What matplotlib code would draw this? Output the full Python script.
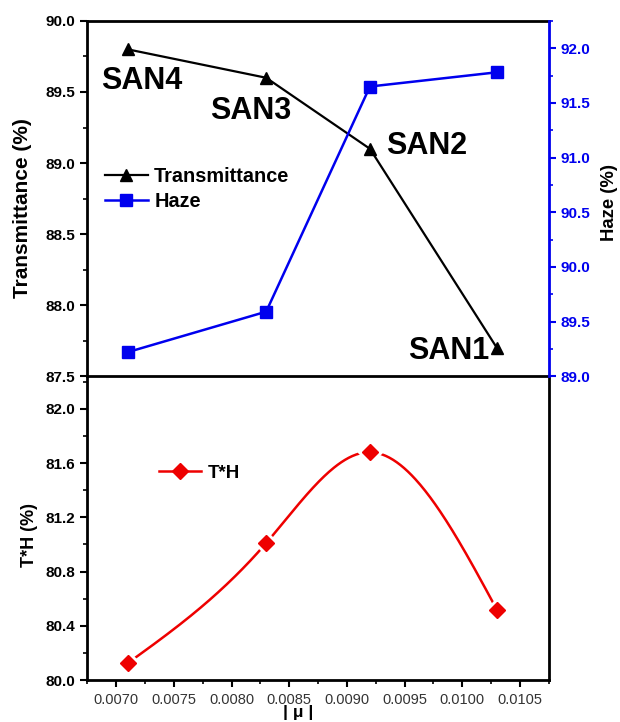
import numpy as np
import matplotlib
matplotlib.use("Agg")
import matplotlib.pyplot as plt
from matplotlib.ticker import MultipleLocator, FormatStrFormatter

plt.rcParams['font.family'] = ['Liberation Sans', 'DejaVu Sans']

mu = [0.0071, 0.0083, 0.0092, 0.0103]
transmittance = [89.80, 89.60, 89.10, 87.70]
haze = [89.22, 89.59, 91.65, 91.78]
th = [80.125, 81.01, 81.68, 80.52]
sample_labels = ['SAN4', 'SAN3', 'SAN2', 'SAN1']


def natural_spline(x, y, n=300):
    x = np.asarray(x, float); y = np.asarray(y, float)
    k = len(x)
    h = np.diff(x)
    A = np.zeros((k, k)); b = np.zeros(k)
    A[0, 0] = 1; A[-1, -1] = 1
    for i in range(1, k - 1):
        A[i, i - 1] = h[i - 1]
        A[i, i] = 2 * (h[i - 1] + h[i])
        A[i, i + 1] = h[i]
        b[i] = 6 * ((y[i + 1] - y[i]) / h[i] - (y[i] - y[i - 1]) / h[i - 1])
    M = np.linalg.solve(A, b)
    xs = np.linspace(x[0], x[-1], n)
    ys = np.empty_like(xs)
    for j, t in enumerate(xs):
        i = min(np.searchsorted(x, t) - 1, k - 2)
        i = max(i, 0)
        a = x[i + 1] - t; c = t - x[i]
        ys[j] = (M[i] * a**3 + M[i + 1] * c**3) / (6 * h[i]) \
            + (y[i] / h[i] - M[i] * h[i] / 6) * a \
            + (y[i + 1] / h[i] - M[i + 1] * h[i] / 6) * c
    return xs, ys


fig = plt.figure(figsize=(6.2, 7.22), dpi=100)
left, right = 0.141, 0.885
ax3 = fig.add_axes([left, 0.058, right - left, 0.479 - 0.058])
ax1 = fig.add_axes([left, 0.479, right - left, 0.971 - 0.479], sharex=ax3)
ax1.patch.set_visible(False)
ax2 = ax1.twinx()

xlim = (0.00675, 0.01075)

# Top panel
l1, = ax1.plot(mu, transmittance, color='black', lw=1.6, marker='^', ms=9,
               label='Transmittance')
l2, = ax2.plot(mu, haze, color='#0000ee', lw=1.8, marker='s', ms=8,
               label='Haze')
ax1.set_xlim(*xlim)
ax1.set_ylim(87.5, 90.0)
ax2.set_ylim(89.0, 92.25)

offsets = [(0.000121, -0.225), (-0.00013, -0.232), (0.000495, 0.02), (-0.000415, -0.02)]
for x, y, lab, (dx, dy) in zip(mu, transmittance, sample_labels, offsets):
    ax1.text(x + dx, y + dy, lab, fontsize=22, fontweight='bold',
             ha='center', va='center')

ax1.yaxis.set_major_locator(MultipleLocator(0.5))
ax1.yaxis.set_minor_locator(MultipleLocator(0.25))
ax1.yaxis.set_major_formatter(FormatStrFormatter('%.1f'))
ax2.yaxis.set_major_locator(MultipleLocator(0.5))
ax2.yaxis.set_minor_locator(MultipleLocator(0.25))
ax2.yaxis.set_major_formatter(FormatStrFormatter('%.1f'))

ax1.tick_params(axis='x', which='both', bottom=False, labelbottom=False)
ax1.tick_params(axis='y', which='major', direction='out', length=5, width=1.5,
                labelsize=11)
ax1.tick_params(axis='y', which='minor', direction='out', length=3, width=1.2)
ax2.tick_params(axis='y', which='major', direction='out', length=5, width=1.5,
                labelsize=11, colors='#0000ee')
ax2.tick_params(axis='y', which='minor', direction='out', length=3, width=1.2,
                colors='#0000ee')
for lab in ax1.get_yticklabels() + ax2.get_yticklabels():
    lab.set_fontweight('bold')

for s in ['top', 'left', 'bottom']:
    ax1.spines[s].set_linewidth(2)
ax2.spines['right'].set_color('#0000ee')
ax2.spines['right'].set_linewidth(2)
for s in ['top', 'left', 'bottom']:
    ax2.spines[s].set_visible(False)
ax1.spines['right'].set_visible(False)

ax1.set_ylabel('Transmittance (%)', fontsize=15, fontweight='bold', labelpad=10)
ax1.yaxis.label.set_y(0.472)
ax2.set_ylabel('Haze (%)', fontsize=13.3, fontweight='bold', labelpad=8)
ax2.yaxis.label.set_y(0.488)

leg = ax1.legend(handles=[l1, l2], loc='upper left', bbox_to_anchor=(0.02, 0.612),
                 frameon=False, fontsize=14.3, handlelength=2.2, handletextpad=0.3,
                 labelspacing=0.3, borderaxespad=0)
for t in leg.get_texts():
    t.set_fontweight('bold')

# Bottom panel
xs, ys = natural_spline(mu, th)
ax3.plot(xs, ys, color='#ee0000', lw=1.8, zorder=2)
ax3.plot(mu, th, ls='none', marker='D', ms=12, color='white', zorder=3)
ax3.plot(mu, th, ls='none', marker='D', ms=8, color='#ee0000', zorder=4)
h3, = ax3.plot([], [], color='#ee0000', lw=1.8, marker='D', ms=8, label='T*H')

ax3.set_ylim(80.0, 82.24)
ax3.yaxis.set_major_locator(MultipleLocator(0.4))
ax3.yaxis.set_minor_locator(MultipleLocator(0.2))
ax3.yaxis.set_major_formatter(FormatStrFormatter('%.1f'))
ax3.xaxis.set_major_locator(MultipleLocator(0.0005))
ax3.xaxis.set_minor_locator(MultipleLocator(0.00025))
ax3.xaxis.set_major_formatter(FormatStrFormatter('%.4f'))
ax3.tick_params(axis='y', which='major', direction='out', length=5, width=1.5,
                labelsize=11)
ax3.tick_params(axis='y', which='minor', direction='out', length=3, width=1.2)
ax3.tick_params(axis='x', which='major', direction='out', length=5, width=1.5,
                labelsize=10.5, labelcolor='#333333', pad=4)
ax3.tick_params(axis='x', which='minor', direction='out', length=3, width=1.2)
for lab in ax3.get_yticklabels():
    lab.set_fontweight('bold')
for s in ['left', 'bottom', 'right']:
    ax3.spines[s].set_linewidth(2)
ax3.spines['top'].set_visible(False)

ax3.set_ylabel('T*H (%)', fontsize=13, fontweight='bold', labelpad=6)
ax3.yaxis.label.set_y(0.477)
ax3.set_xlabel('| μ |', fontsize=12.5, fontweight='bold', labelpad=-1)
ax3.xaxis.label.set_x(0.456)

leg3 = ax3.legend(handles=[h3], loc='center left', bbox_to_anchor=(0.14, 0.68),
                  frameon=False, fontsize=13.5, handlelength=2.2, handletextpad=0.4,
                  borderaxespad=0)
for t in leg3.get_texts():
    t.set_fontweight('bold')

fig.savefig('out.png', dpi=100)
